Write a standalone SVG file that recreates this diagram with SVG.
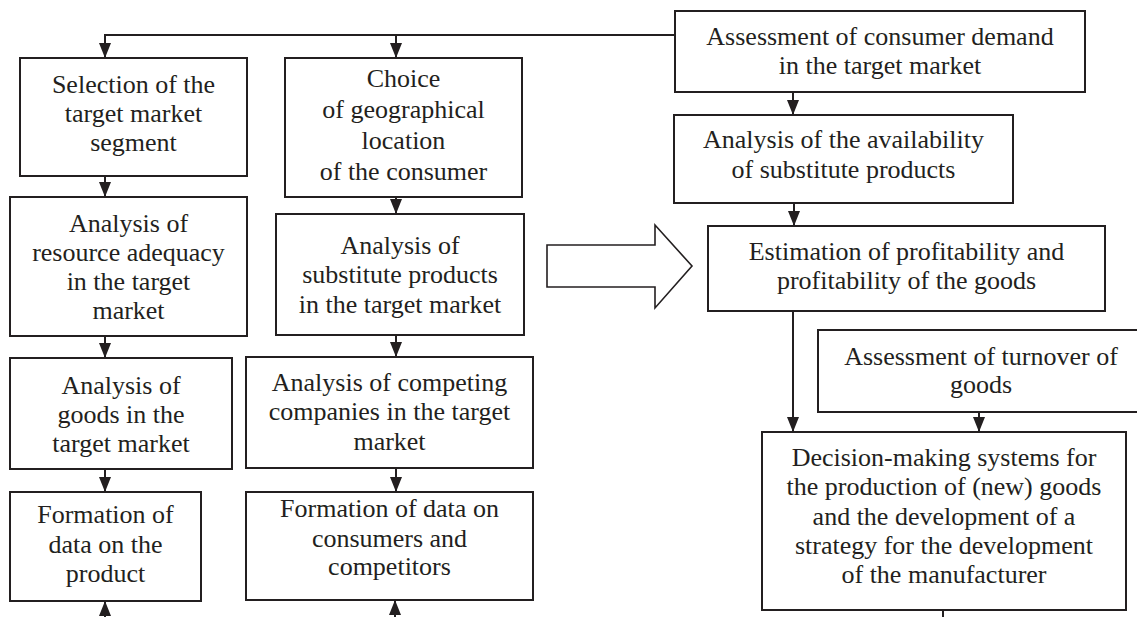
<svg xmlns="http://www.w3.org/2000/svg" width="1137" height="617" viewBox="0 0 1137 617">
<defs>
<style>
.box{fill:#fff;stroke:#231f20;stroke-width:2}
.t{font-family:'Liberation Serif',serif;font-size:26px;fill:#231f20;text-anchor:middle}
.c{fill:none;stroke:#231f20;stroke-width:2}
.a{marker-end:url(#ah)}
</style>
<marker id="ah" viewBox="0 0 15 12" refX="15" refY="6" markerWidth="15" markerHeight="12" markerUnits="userSpaceOnUse" orient="auto">
<path d="M0,0 L15,6 L0,12 z" fill="#231f20"/>
</marker>
</defs>
<rect width="1137" height="617" fill="#fff"/>

<g id="connectors">
<path class="c a" d="M675,35 H105 V58"/>
<path class="c a" d="M396,35 V58"/>
<path class="c a" d="M105,176 V197"/>
<path class="c a" d="M105,336 V358"/>
<path class="c a" d="M105,469 V492"/>
<path class="c a" d="M105,617 V601"/>
<path class="c a" d="M396,197 V214"/>
<path class="c a" d="M396,335 V357"/>
<path class="c a" d="M396,468 V492"/>
<path class="c a" d="M395,617 V600"/>
<path class="c a" d="M793,92 V115"/>
<path class="c a" d="M794,203 V226"/>
<path class="c a" d="M793,311 V432"/>
<path class="c a" d="M979,412 V432"/>
<path class="c" d="M943,610 V617"/>
<polygon id="block-arrow" points="547,245 655,245 655,225 692,266 655,308 655,287 547,287" fill="#fff" stroke="#231f20" stroke-width="1.6"/>
</g>

<g id="n-selection">
<rect class="box" x="20" y="58" width="227" height="118"/>
<text class="t" x="133.5" y="93">Selection of the</text>
<text class="t" x="133.5" y="122">target market</text>
<text class="t" x="133.5" y="151">segment</text>
</g>

<g id="n-resource">
<rect class="box" x="10" y="197" width="237" height="139"/>
<text class="t" x="128.5" y="232">Analysis of</text>
<text class="t" x="128.5" y="261">resource adequacy</text>
<text class="t" x="128.5" y="290">in the target</text>
<text class="t" x="128.5" y="319">market</text>
</g>

<g id="n-goods">
<rect class="box" x="10" y="358" width="222" height="111"/>
<text class="t" x="121" y="394">Analysis of</text>
<text class="t" x="121" y="423">goods in the</text>
<text class="t" x="121" y="452">target market</text>
</g>

<g id="n-formation-product">
<rect class="box" x="10" y="492" width="191" height="109"/>
<text class="t" x="105.5" y="523">Formation of</text>
<text class="t" x="105.5" y="553">data on the</text>
<text class="t" x="105.5" y="582">product</text>
</g>

<g id="n-choice">
<rect class="box" x="285" y="58" width="237" height="139"/>
<text class="t" x="403.5" y="87">Choice</text>
<text class="t" x="403.5" y="118">of geographical</text>
<text class="t" x="403.5" y="149">location</text>
<text class="t" x="403.5" y="180">of the consumer</text>
</g>

<g id="n-substitute">
<rect class="box" x="276" y="214" width="248" height="121"/>
<text class="t" x="400" y="254">Analysis of</text>
<text class="t" x="400" y="283">substitute products</text>
<text class="t" x="400" y="313">in the target market</text>
</g>

<g id="n-competing">
<rect class="box" x="246" y="357" width="287" height="111"/>
<text class="t" x="389.5" y="391">Analysis of competing</text>
<text class="t" x="389.5" y="420">companies in the target</text>
<text class="t" x="389.5" y="450">market</text>
</g>

<g id="n-formation-consumers">
<rect class="box" x="246" y="492" width="287" height="108"/>
<text class="t" x="389.5" y="517">Formation of data on</text>
<text class="t" x="389.5" y="547">consumers and</text>
<text class="t" x="389.5" y="575">competitors</text>
</g>

<g id="n-demand">
<rect class="box" x="675" y="11" width="410" height="81"/>
<text class="t" x="880" y="45">Assessment of consumer demand</text>
<text class="t" x="880" y="74">in the target market</text>
</g>

<g id="n-availability">
<rect class="box" x="674" y="115" width="339" height="88"/>
<text class="t" x="843.5" y="148">Analysis of the availability</text>
<text class="t" x="843.5" y="178">of substitute products</text>
</g>

<g id="n-profitability">
<rect class="box" x="708" y="226" width="397" height="85"/>
<text class="t" x="906.5" y="260">Estimation of profitability and</text>
<text class="t" x="906.5" y="289">profitability of the goods</text>
</g>

<g id="n-turnover">
<rect class="box" x="818" y="330" width="330" height="82"/>
<text class="t" x="981" y="365">Assessment of turnover of</text>
<text class="t" x="981" y="393">goods</text>
</g>

<g id="n-decision">
<rect class="box" x="762" y="432" width="364" height="178"/>
<text class="t" x="944" y="466">Decision-making systems for</text>
<text class="t" x="944" y="495">the production of (new) goods</text>
<text class="t" x="944" y="525">and the development of a</text>
<text class="t" x="944" y="554">strategy for the development</text>
<text class="t" x="944" y="583">of the manufacturer</text>
</g>
</svg>
